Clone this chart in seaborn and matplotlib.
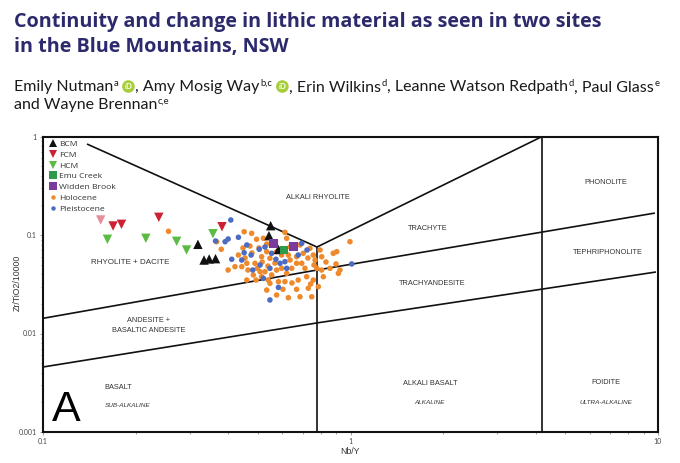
import matplotlib
matplotlib.use('Agg')
import matplotlib.pyplot as plt
import seaborn as sns
import pandas as pd
from matplotlib.lines import Line2D
from matplotlib.patches import Ellipse
from matplotlib.ticker import FixedLocator, FixedFormatter, NullFormatter

# ---------------- data (Nb/Y, Zr/TiO2/10000) ----------------
bcm_x = [0.319, 0.334, 0.347, 0.364, 0.550, 0.543, 0.583]
bcm_y = [0.0804, 0.0557, 0.0571, 0.0575, 0.1243, 0.0984, 0.0713]

fcm_x = [0.169, 0.180, 0.238, 0.382]
fcm_y = [0.1234, 0.1284, 0.1512, 0.1214]

fcm_pale_x = [0.154]
fcm_pale_y = [0.142]

hcm_x = [0.162, 0.216, 0.272, 0.293, 0.357]
hcm_y = [0.0905, 0.0926, 0.0863, 0.0704, 0.1031]

emu_x = [0.608]
emu_y = [0.0704]

widden_x = [0.561, 0.652]
widden_y = [0.0823, 0.0761]

holo_x = [0.256, 0.367, 0.380, 0.400, 0.421, 0.443, 0.451, 0.477, 0.495, 0.521,
          0.534, 0.432, 0.460, 0.489, 0.498, 0.508, 0.527, 0.483, 0.460, 0.493,
          0.514, 0.540, 0.547, 0.583, 0.612, 0.534, 0.575, 0.628, 0.685, 0.668,
          0.729, 0.748, 0.612, 0.620, 0.534, 0.514, 0.547, 0.575, 0.597, 0.628,
          0.636, 0.597, 0.644, 0.668, 0.668, 0.702, 0.694, 0.711, 0.738, 0.757,
          0.767, 0.796, 0.806, 0.777, 0.806, 0.816, 0.879, 0.902, 0.996, 0.913,
          0.924, 0.757, 0.676, 0.720, 0.620, 0.575, 0.554, 0.761, 0.897, 0.742,
          0.786, 0.504, 0.478, 0.447, 0.568, 0.539, 0.636, 0.685, 0.727, 0.832,
          0.858, 0.603, 0.645, 0.471, 0.454, 0.516, 0.464]
holo_y = [0.109, 0.0855, 0.0716, 0.0441, 0.0477, 0.0477, 0.108, 0.104, 0.0905, 0.0926,
          0.0810, 0.0626, 0.0516, 0.0516, 0.0459, 0.0424, 0.0424, 0.0393, 0.0349, 0.0349,
          0.0377, 0.0349, 0.0323, 0.0336, 0.0336, 0.0276, 0.0246, 0.0231, 0.0236, 0.0281,
          0.0288, 0.0236, 0.1065, 0.0926, 0.0677, 0.0602, 0.0580, 0.0677, 0.0626, 0.0626,
          0.0557, 0.0459, 0.0459, 0.0516, 0.0602, 0.0652, 0.0516, 0.0459, 0.0733, 0.0626,
          0.0557, 0.0704, 0.0602, 0.0459, 0.0441, 0.0377, 0.0652, 0.0677, 0.0855, 0.0408,
          0.0441, 0.0349, 0.0349, 0.0377, 0.0408, 0.0441, 0.0393, 0.0496, 0.0508, 0.0318,
          0.0299, 0.0738, 0.0657, 0.0738, 0.0519, 0.0484, 0.0755, 0.0792, 0.0584, 0.0532,
          0.0459, 0.0281, 0.0326, 0.0773, 0.0584, 0.0532, 0.0441]

pleis_x = [0.408, 0.391, 0.400, 0.432, 0.460, 0.451, 0.411, 0.443, 0.475, 0.505,
           0.508, 0.547, 0.554, 0.572, 0.590, 0.612, 0.620, 0.583, 0.547, 0.521,
           0.481, 0.676, 0.694, 1.009, 0.334, 0.364, 0.722, 0.527]
pleis_y = [0.142, 0.0855, 0.0911, 0.0948, 0.0792, 0.0661, 0.0567, 0.0557, 0.0626, 0.0716,
           0.0496, 0.0459, 0.0652, 0.0567, 0.0516, 0.0536, 0.0459, 0.0294, 0.0219, 0.0363,
           0.0441, 0.0626, 0.0823, 0.0508, 0.0536, 0.0869, 0.0704, 0.0755]

# classification boundaries (Nb/Y, Zr/TiO2)
b_upper_left_x = [0.139, 0.778]
b_upper_left_y = [0.839, 0.0755]
b_upper_right_x = [0.778, 4.20]
b_upper_right_y = [0.0755, 1.0]
b_line_a_x = [0.1, 0.778, 9.77]
b_line_a_y = [0.01426, 0.0441, 0.167]
b_line_b_x = [0.1, 0.778, 9.85]
b_line_b_y = [0.00457, 0.0128, 0.0421]
b_vert1_x = [0.778, 0.778]
b_vert1_y = [0.0755, 0.001]
b_vert2_x = [4.20, 4.20]
b_vert2_y = [1.0, 0.001]

groups = ["Holocene", "Pleistocene", "FCM pale", "BCM", "FCM", "HCM", "Emu Creek", "Widden Brook"]
legend_groups = ["BCM", "FCM", "HCM", "Emu Creek", "Widden Brook", "Holocene", "Pleistocene"]
colors = {"BCM": "#111111", "FCM": "#cc2233", "FCM pale": "#e98d9b", "HCM": "#5cbb45",
          "Emu Creek": "#2e9b4a", "Widden Brook": "#7a3b9c",
          "Holocene": "#ef8a2c", "Pleistocene": "#4a6cc2"}
markers = {"BCM": "^", "FCM": "v", "FCM pale": "v", "HCM": "v", "Emu Creek": "s",
           "Widden Brook": "s", "Holocene": "o", "Pleistocene": "o"}
sizes = {"BCM": 46, "FCM": 46, "FCM pale": 46, "HCM": 46, "Emu Creek": 38,
         "Widden Brook": 38, "Holocene": 16, "Pleistocene": 16}

series = {"Holocene": (holo_x, holo_y), "Pleistocene": (pleis_x, pleis_y),
          "FCM pale": (fcm_pale_x, fcm_pale_y), "BCM": (bcm_x, bcm_y),
          "FCM": (fcm_x, fcm_y), "HCM": (hcm_x, hcm_y),
          "Emu Creek": (emu_x, emu_y), "Widden Brook": (widden_x, widden_y)}
rows = []
for g in groups:
    xs, ys = series[g]
    for a, b in zip(xs, ys):
        rows.append({"nby": a, "zrti": b, "group": g})
df = pd.DataFrame(rows)

# ---------------- figure ----------------
sns.set_theme(style="white")
plt.rcParams['font.family'] = ['Lato', 'DejaVu Sans']

W, H = 680, 463
fig = plt.figure(figsize=(W / 100, H / 100), dpi=100)
fig.patch.set_facecolor("white")

L, R, T, B = 43, 658, 136.5, 432
ax = fig.add_axes([L / W, 1 - B / H, (R - L) / W, (B - T) / H])
ax.set_xscale("log")
ax.set_yscale("log")
ax.set_xlim(0.1, 10)
ax.set_ylim(0.001, 1)

line_kw = dict(color="#111111", lw=1.2, solid_capstyle="butt", zorder=2)
for bx, by in [(b_upper_left_x, b_upper_left_y), (b_upper_right_x, b_upper_right_y),
               (b_line_a_x, b_line_a_y), (b_line_b_x, b_line_b_y),
               (b_vert1_x, b_vert1_y), (b_vert2_x, b_vert2_y)]:
    ax.plot(bx, by, **line_kw)

sns.scatterplot(data=df, x="nby", y="zrti", hue="group", style="group", size="group",
                palette=colors, markers=markers, sizes=sizes, linewidth=0,
                legend=False, ax=ax, zorder=3)

for s in ax.spines.values():
    s.set_color("#111111")
    s.set_linewidth(1.5)

ax.xaxis.set_major_locator(FixedLocator([0.1, 1, 10]))
ax.xaxis.set_major_formatter(FixedFormatter(["0.1", "1", "10"]))
ax.yaxis.set_major_locator(FixedLocator([0.001, 0.01, 0.1, 1]))
ax.yaxis.set_major_formatter(FixedFormatter(["0.001", "0.01", "0.1", "1"]))
ax.xaxis.set_minor_formatter(NullFormatter())
ax.yaxis.set_minor_formatter(NullFormatter())
ax.tick_params(which="both", bottom=True, left=True, direction="out", color="#777777",
               width=0.5, labelsize=5, labelcolor="#444444")
ax.tick_params(which="major", length=2.5, pad=2)
ax.tick_params(which="minor", length=1.2)
ax.set_xlabel("")
ax.set_ylabel("")

fig.text(17 / W, 1 - 283 / H, "Zr/TiO2/10000", rotation=90, ha="center", va="center",
         fontsize=6.3, color="#333333", family=["Liberation Sans", "DejaVu Sans"])
fig.text(350 / W, 1 - 451 / H, "Nb/Y", ha="center", va="center",
         fontsize=6.3, color="#333333", family=["Liberation Sans", "DejaVu Sans"])

# region labels (axes fraction)
lab_kw = dict(transform=ax.transAxes, ha="center", va="center", fontsize=5.3,
              color="#333333", family=["Liberation Sans", "DejaVu Sans"])
ax.text(0.447, 0.795, "ALKALI RHYOLITE", **lab_kw)
ax.text(0.626, 0.687, "TRACHYTE", **lab_kw)
ax.text(0.915, 0.843, "PHONOLITE", **lab_kw)
ax.text(0.919, 0.609, "TEPHRIPHONOLITE", **lab_kw)
ax.text(0.633, 0.504, "TRACHYANDESITE", **lab_kw)
rd_kw = dict(lab_kw)
rd_kw.update(fontsize=5.8)
ax.text(0.1415, 0.575, "RHYOLITE + DACITE", **rd_kw)
ax.text(0.172, 0.360, "ANDESITE +\nBASALTIC ANDESITE", linespacing=1.5, **lab_kw)
ax.text(0.122, 0.149, "BASALT", **lab_kw)
ax.text(0.629, 0.163, "ALKALI BASALT", **lab_kw)
ax.text(0.916, 0.168, "FOIDITE", **lab_kw)
it_kw = dict(lab_kw)
it_kw.update(fontsize=4.6, style="italic")
ax.text(0.138, 0.088, "SUB-ALKALINE", **it_kw)
ax.text(0.629, 0.1015, "ALKALINE", **it_kw)
ax.text(0.916, 0.100, "ULTRA-ALKALINE", **it_kw)
ax.text(0.0374, 0.075, "A", transform=ax.transAxes, ha="center", va="center",
        fontsize=31, color="#000000", family=["Liberation Sans", "DejaVu Sans"])

# legend
handles = []
for g in legend_groups:
    ms = {"o": 3.2, "s": 5.2, "^": 6.4, "v": 6.4}[markers[g]]
    handles.append(Line2D([], [], ls="none", marker=markers[g], color=colors[g],
                          markeredgewidth=0, markersize=ms))
leg = ax.legend(handles, legend_groups, loc="upper left", bbox_to_anchor=(0.009, 0.993),
                frameon=False, handlelength=0.7, handletextpad=0.35,
                labelspacing=0.33, borderpad=0.2, borderaxespad=0.0,
                prop={"family": ["Open Sans", "DejaVu Sans"], "size": 6.1})
for t in leg.get_texts():
    t.set_color("#333333")
leg.set_zorder(5)

# ---------------- header text ----------------
TITLE_KW = dict(ha="left", va="baseline", fontsize=14.2, fontweight="bold", color="#2c2a6c",
                family=["Open Sans", "DejaVu Sans"])
fig.text(13.5 / W, 1 - 27.5 / H, "Continuity and change in lithic material as seen in two sites",
         **TITLE_KW)
fig.text(13.5 / W, 1 - 52 / H, "in the Blue Mountains, NSW", **TITLE_KW)

renderer = fig.canvas.get_renderer()
AUTH = 11.5
SUP = 6.8


def draw_runs(x_px, base_px, runs):
    x = x_px
    for kind, s in runs:
        if kind == "orcid":
            r = 6.3
            cx = x + 4 + r
            cy = base_px - 5.0
            e = Ellipse((cx / W, 1 - cy / H), 2 * r / W, 2 * r / H, transform=fig.transFigure,
                        facecolor="#a6ce39", edgecolor="none")
            fig.add_artist(e)
            fig.text(cx / W, 1 - cy / H, "iD", ha="center", va="center", fontsize=5.6,
                     color="white", fontweight="bold", transform=fig.transFigure)
            x = cx + r + 0.5
            continue
        if kind == "n":
            t = fig.text(x / W, 1 - base_px / H, s, ha="left", va="baseline",
                         fontsize=AUTH, color="#1a1a1a")
        else:
            t = fig.text((x + 0.6) / W, 1 - (base_px - 5.5) / H, s, ha="left", va="baseline",
                         fontsize=SUP, color="#1a1a1a")
        bb = t.get_window_extent(renderer)
        x += bb.width + (0.6 if kind == "s" else 0)
    return x


draw_runs(13.5, 91.5, [("n", "Emily Nutman"), ("s", "a"), ("orcid", ""), ("n", ", Amy Mosig Way"),
                       ("s", "b,c"), ("orcid", ""), ("n", ", Erin Wilkins"), ("s", "d"),
                       ("n", ", Leanne Watson Redpath"), ("s", "d"), ("n", ", Paul Glass"), ("s", "e")])
draw_runs(13.5, 109.5, [("n", "and Wayne Brennan"), ("s", "c,e")])

fig.savefig("out.png", dpi=100, facecolor="white")
